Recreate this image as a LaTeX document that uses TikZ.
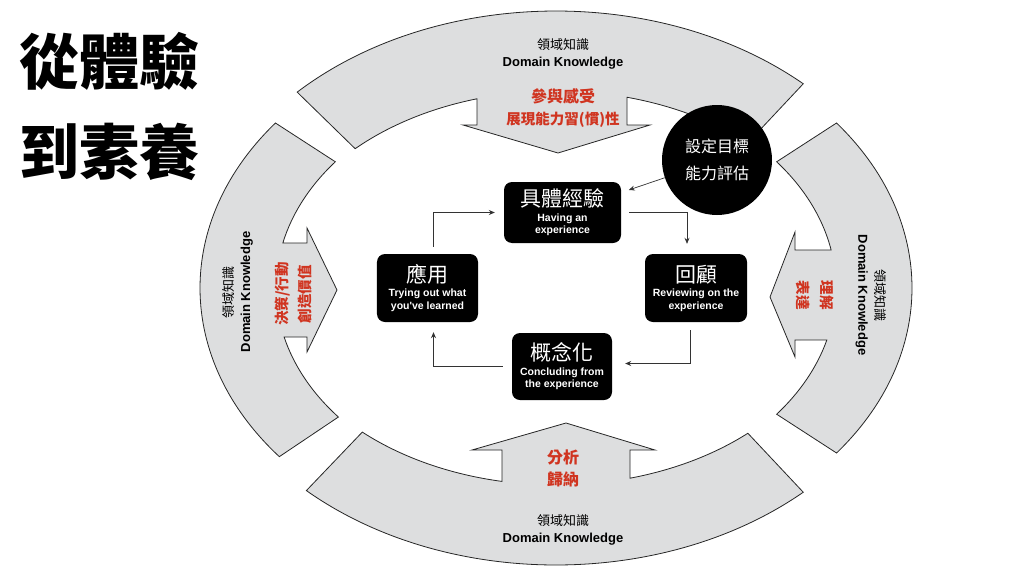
\documentclass[tikz,border=0pt]{standalone}
\usepackage{fontspec}
\setmainfont{Liberation Sans}
\newfontfamily\cjkfont{Noto Sans CJK TC}
\usetikzlibrary{arrows.meta}
\definecolor{ringgray}{RGB}{221,222,223}
\definecolor{skillred}{RGB}{208,52,32}

\begin{document}
\begin{tikzpicture}
[x=1pt, y=1pt,
  ringPart/.style={draw=black!85, line width=0.8pt, fill=ringgray},%
  stageBox/.style={fill=black, rounded corners=8pt, text=white, align=center, inner sep=0pt,
    font=\bfseries\fontsize{10.5}{12.5}\selectfont},%
  goalCircle/.style={circle, fill=black, text=white, align=center, minimum size=110pt, inner sep=0pt,
    font=\cjkfont\fontsize{16}{27}\selectfont},%
  flowLine/.style={draw=black!80, line width=0.7pt, -{Stealth[length=6pt,width=5pt]}},%
  domainText/.style={align=center, font=\bfseries\fontsize{13}{17}\selectfont},%
  skillText/.style={align=center, text=skillred, font=\cjkfont\bfseries\fontsize{16}{22}\selectfont}]
\useasboundingbox (-556,-288) rectangle (468,288);
%% ring segments (top, left, bottom, right)
\draw[ringPart] (47.5:366 and 277) arc[start angle=47.5, end angle=135, x radius=366, y radius=277]
  -- (135:284 and 197) arc[start angle=135, end angle=106.15, x radius=284, y radius=197]
  -- (-79,163) -- (-93,163) -- (2,135) -- (94,163) -- (71,163)
  -- (75.52:284 and 197) arc[start angle=75.52, end angle=47.5, x radius=284, y radius=197] -- cycle;
\draw[ringPart] (142:356 and 268) arc[start angle=142, end angle=219, x radius=356, y radius=268]
  -- (219:280 and 205) arc[start angle=219, end angle=193.83, x radius=280, y radius=205]
  -- (-249,-49) -- (-249,-64) -- (-219,-2) -- (-249,60) -- (-249,45)
  -- (167.32:280 and 205) arc[start angle=167.32, end angle=142, x radius=280, y radius=205] -- cycle;
\draw[ringPart] (227:366 and 277) arc[start angle=227, end angle=312.5, x radius=366, y radius=277]
  -- (312.5:284 and 197) arc[start angle=312.5, end angle=285.11, x radius=284, y radius=197]
  -- (74,-162) -- (99,-162) -- (10,-135) -- (-84,-162) -- (-54,-162)
  -- (259.04:284 and 197) arc[start angle=259.04, end angle=227, x radius=284, y radius=197] -- cycle;
\draw[ringPart] (-38:356 and 268) arc[start angle=-38, end angle=38, x radius=356, y radius=268]
  -- (38:280 and 205) arc[start angle=38, end angle=10.68, x radius=280, y radius=205]
  -- (239,38) -- (239,56) -- (214,-9) -- (239,-69) -- (239,-52)
  -- (-14.69:280 and 205) arc[start angle=-14.69, end angle=-38, x radius=280, y radius=205] -- cycle;
%% ring texts
\node[domainText] (topdomain) at (7,234) {{\cjkfont\mdseries 領域知識}\\Domain Knowledge};
\node[domainText] (bottomdomain) at (7,-241.5) {{\cjkfont\mdseries 領域知識}\\Domain Knowledge};
\node[domainText, rotate=90] (leftdomain) at (-318.5,-4) {{\cjkfont\mdseries 領域知識}\\Domain Knowledge};
\node[domainText, rotate=-90] (rightdomain) at (315,-7) {{\cjkfont\mdseries 領域知識}\\Domain Knowledge};
\node[skillText] (topskill) at (7,180) {參與感受\\{\fontsize{14.5}{20}\selectfont 展現能力習(慣)性}};
\node[skillText] (bottomskill) at (7,-180.5) {分析\\歸納};
\node[skillText, rotate=90, font=\cjkfont\bfseries\fontsize{14.5}{23}\selectfont] (leftskill) at (-262.5,-6) {決策/行動\\創造價值};
\node[skillText, rotate=-90, font=\cjkfont\bfseries\fontsize{14.5}{24}\selectfont] (rightskill) at (259,-7) {理解\\表達};
%% title
\node[anchor=west, align=left, font=\cjkfont\bfseries\fontsize{60}{90}\selectfont] (title) at (-540,182) {從體驗\\到素養};
%% learning cycle
\foreach \nodename/\x/\y/\boxw/\boxh/\zh/\en in {exp/6.5/75.5/117/61/具體經驗/{Having an\\experience},
  review/140/0/102/68/回顧/{Reviewing on the\\experience},
  concl/6/-78.5/100/67/概念化/{Concluding from\\the experience},
  apply/-128.5/0/101/68/應用/{Trying out what\\you\textquotesingle ve learned}}
{
  \node (\nodename) at (\x,\y) [stageBox, minimum width=\boxw pt, minimum height=\boxh pt]
    {{\cjkfont\mdseries\fontsize{21}{24}\selectfont \zh}\\[2pt]\en};
}
\node[goalCircle] (goal) at (161,128) {設定目標\\能力評估};
%% connectors
\draw[flowLine, shorten >=8pt] (goal) -- (exp);
\draw[flowLine] ([xshift=8pt]exp.east) -| ([xshift=-9pt,yshift=10pt]review.north);
\draw[flowLine] ([xshift=-6pt,yshift=-8pt]review.south) |- ([xshift=13pt,yshift=3pt]concl.east);
\draw[flowLine] ([xshift=-9pt]concl.west) -| ([xshift=6pt,yshift=-10pt]apply.south);
\draw[flowLine] ([xshift=6pt,yshift=7pt]apply.north) |- ([xshift=-9pt]exp.west);
\end{tikzpicture}
\end{document}
